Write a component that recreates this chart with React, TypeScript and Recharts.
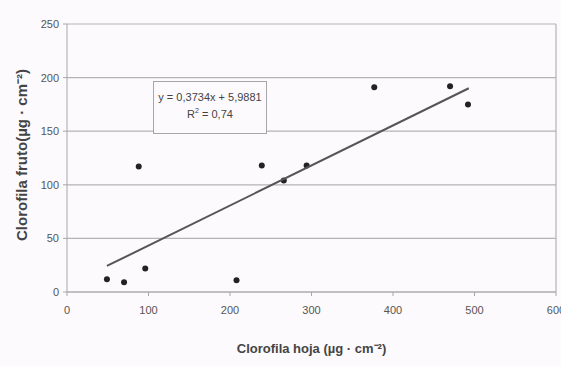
import React from 'react';
import { ScatterChart, Scatter, XAxis, YAxis, CartesianGrid, ReferenceLine } from 'recharts';

const hojaValues = [49, 70, 96, 208, 88, 239, 266, 294, 377, 470, 492];
const frutoValues = [12, 9, 22, 11, 117, 118, 104, 118, 191, 192, 175];
const xTicks = [0, 100, 200, 300, 400, 500, 600];
const yTicks = [0, 50, 100, 150, 200, 250];
const slope = 0.3734;
const intercept = 5.9881;
const trendRange = [49, 493];
const equationText = 'y = 0,3734x + 5,9881';

const points = hojaValues.map((x, i) => ({ x, y: frutoValues[i] }));
const trend = trendRange.map((x) => ({ x, y: slope * x + intercept }));

const font = '"Liberation Sans", Arial, sans-serif';

const Dot = (props: any) => {
  const { cx, cy } = props;
  return <circle cx={cx} cy={cy} r={3} fill="#222" />;
};

export default function App() {
  return (
    <div style={{ position: 'absolute', left: 0, top: 0, width: 561, height: 366, background: '#fcfafc', fontFamily: font }}>
      <ScatterChart width={561} height={366} margin={{ top: 24, right: 5, bottom: 44, left: 37 }}>
        <CartesianGrid horizontal vertical={false} stroke="#b5b3b5" strokeWidth={1.2} />
        <XAxis
          type="number"
          dataKey="x"
          domain={[0, 600]}
          ticks={xTicks}
          interval={0}
          height={30}
          stroke="#a8a6a8"
          tickSize={4}
          tick={{ fill: '#555', fontSize: 11, fontFamily: font }}
          tickMargin={10}
          label={{ value: 'Clorofila hoja (µg · cm⁻²)', position: 'bottom', offset: 22, style: { fill: '#444', fontSize: 13, fontWeight: 'bold', fontFamily: font } }}
        />
        <YAxis
          type="number"
          dataKey="y"
          domain={[0, 250]}
          ticks={yTicks}
          interval={0}
          width={30}
          stroke="#a8a6a8"
          tickSize={4}
          tick={{ fill: '#555', fontSize: 11, fontFamily: font }}
          tickMargin={4}
          label={{ value: 'Clorofila fruto(µg · cm⁻²)', angle: -90, position: 'insideLeft', offset: -15, dy: -3, style: { fill: '#444', fontSize: 15, fontWeight: 'bold', fontFamily: font, textAnchor: 'middle' } }}
        />
        <ReferenceLine x={600} stroke="#b5b3b5" strokeWidth={1.2} />
        <Scatter data={points} shape={<Dot />} isAnimationActive={false} />
        <Scatter data={trend} line={{ stroke: '#555', strokeWidth: 2 }} shape={() => null} isAnimationActive={false} />
      </ScatterChart>
      <div
        style={{
          position: 'absolute',
          left: 153,
          top: 81,
          width: 114,
          height: 53,
          border: '1px solid #a8a6a8',
          background: '#fcfafc',
          boxSizing: 'border-box',
          fontSize: 11,
          color: '#444',
          textAlign: 'center',
          lineHeight: '17px',
          paddingTop: 7,
          fontFamily: font,
        }}
      >
        <div>{equationText}</div>
        <div>R<sup style={{ fontSize: 7, verticalAlign: 'super', lineHeight: 0 }}>2</sup> = 0,74</div>
      </div>
    </div>
  );
}
